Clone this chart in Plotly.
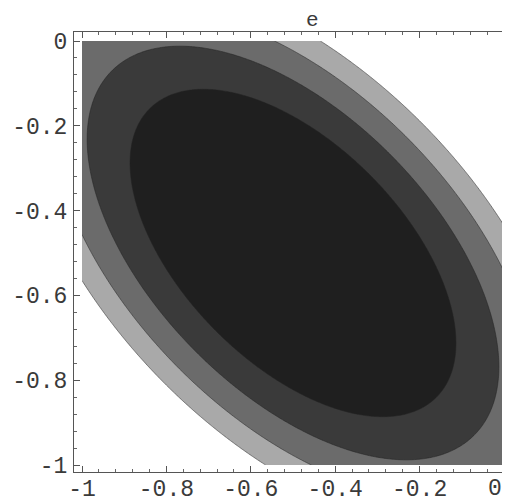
import numpy as np
import plotly.graph_objects as go

# ---- data ----
CENTER_X = -0.5          # centre of the elliptical contours
CENTER_Y = -0.5
CROSS = 1.1              # cross-term coefficient of the quadratic surface
LEVELS = [0.104, 0.166, 0.228, 0.290]   # contour levels (inner -> outer)
BAND_COLORS = ["#1f1f1f", "#3a3a3a", "#6b6b6b", "#a9a9a9", "#ffffff"]

X_TICKS = [-1, -0.8, -0.6, -0.4, -0.2, 0]
X_LABELS = ["-1", "-0.8", "-0.6", "-0.4", "-0.2", "0"]
Y_TICKS = [-1, -0.8, -0.6, -0.4, -0.2, 0]
Y_LABELS = ["-1", "-0.8", "-0.6", "-0.4", "-0.2", "0"]
TITLE = "e"

# ---- surface ----
xs = np.linspace(-1.0, 0.0, 261)
ys = np.linspace(-1.0, 0.0, 261)
XX, YY = np.meshgrid(xs, ys)
dx = XX - CENTER_X
dy = YY - CENTER_Y
Z = dx**2 + dy**2 + CROSS * dx * dy

# stepped colour scale: one flat colour per band
n = len(BAND_COLORS)
cscale = []
for i, c in enumerate(BAND_COLORS):
    cscale.append([i / n, c])
    cscale.append([(i + 1) / n, c])

fig = go.Figure()
fig.add_trace(go.Contour(
    x=xs, y=ys, z=Z,
    autocontour=False,
    contours=dict(start=LEVELS[0], end=LEVELS[-1],
                  size=LEVELS[1] - LEVELS[0], coloring="fill"),
    colorscale=cscale,
    showscale=False,
    line=dict(width=0.7, color="rgba(35,35,35,0.75)"),
    hoverinfo="skip",
))

FONT = "Liberation Mono, Courier New, monospace"
LABEL_FONT = dict(family=FONT, size=23, color="#3a3a3a")
axis_common = dict(
    showgrid=False, zeroline=False, automargin=False,
    showline=True, linecolor="#555", linewidth=1,
    ticks="inside", ticklen=6, tickcolor="#555", tickwidth=1,
    tickfont=LABEL_FONT,
    minor=dict(dtick=0.04, tick0=0, ticks="inside", ticklen=3,
               tickcolor="#666", showgrid=False),
)

# the last x label sits right at the page edge: draw it as an annotation
# anchored on its right side so it stays fully visible
x_ticktext = X_LABELS[:-1] + [""]

# the page body adds an 8px offset, so the figure is sized to the visible area
fig.update_layout(
    width=502, height=495,
    margin=dict(l=66, r=0, t=24, b=31),
    paper_bgcolor="white", plot_bgcolor="white",
    xaxis=dict(range=[-1.01896, 0.01422], tickvals=X_TICKS, ticktext=x_ticktext,
               mirror="ticks", ticklabelstandoff=-5, **axis_common),
    yaxis=dict(range=[-1.01651, 0.02123], tickvals=Y_TICKS, ticktext=Y_LABELS,
               mirror=False, ticklabelstandoff=1, **axis_common),
    annotations=[
        dict(text=TITLE, xref="paper", yref="paper",
             x=0.546, y=1.0 + 24 / 440, xanchor="center", yanchor="top",
             showarrow=False, borderpad=0,
             font=dict(family=FONT, size=21, color="#3a3a3a")),
        dict(text=X_LABELS[-1], xref="paper", yref="paper",
             x=1.0 - 7 / 436, y=-17 / 440, xanchor="right", yanchor="middle",
             showarrow=False, borderpad=0, font=LABEL_FONT),
    ],
)

fig.write_html("out.html")
